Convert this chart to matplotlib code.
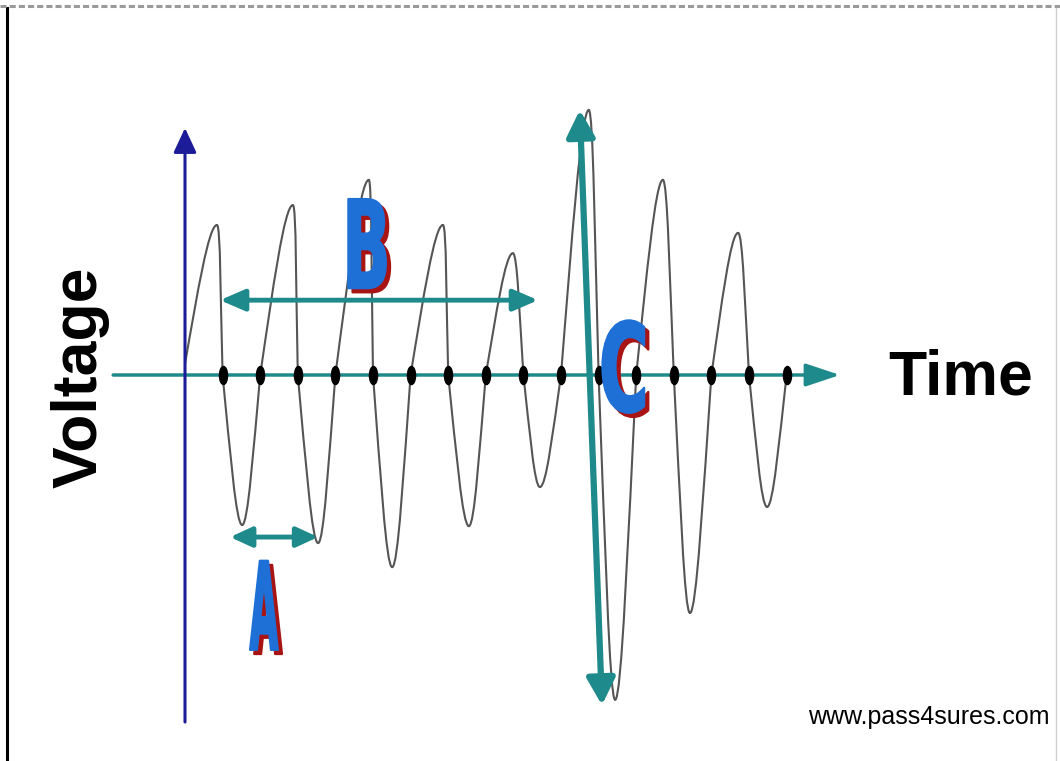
import matplotlib
matplotlib.use("Agg")
import matplotlib.pyplot as plt
import matplotlib.colors as mcolors
from matplotlib import patheffects
from matplotlib.path import Path
from matplotlib.patches import PathPatch, FancyArrowPatch, ArrowStyle
from matplotlib.markers import MarkerStyle
from matplotlib.transforms import Affine2D
from matplotlib.lines import Line2D

# waveform: time in tick units, voltage in the same units
start_tv = (0.0, 0.3)
peak_t = [0.85, 2.87, 4.89, 6.86, 8.72, 10.74, 12.71, 14.71]
peak_v = [3.99, 4.52, 5.19, 3.99, 3.24, 7.05, 5.19, 3.78]
trough_t = [1.52, 3.54, 5.51, 7.55, 9.44, 11.44, 13.43, 15.48]
trough_v = [-3.99, -4.47, -5.11, -4.02, -2.98, -8.64, -6.33, -3.51]
cross_t = list(range(1, 17))
tick_t = list(range(1, 17))

# annotation arrows (start, end)
arrow_a = ((1.20, -4.31), (3.54, -4.31))
arrow_b = ((0.93, 1.99), (9.39, 1.99))
arrow_c = ((10.50, 7.05), (11.09, -8.78))
volt_axis = ((0.0, -9.23), (0.0, 6.57))
time_axis = ((-1.91, 0.0), (17.42, 0.0))

TEAL = "#1f8a8b"
NAVY = "#1c1c98"
BLUE = "#1e6fd6"
RED = "#a81414"
GREY = "#555555"


class Squeeze(patheffects.AbstractPathEffect):
    """draw the glyph narrower, around its own centre"""

    def __init__(self, width, offset=(0, 0), color=None, stroke=1.6):
        super().__init__(offset)
        self.width = width
        self.color = color
        self.stroke = stroke

    def draw_path(self, renderer, gc, tpath, affine, rgbFace=None):
        bb = tpath.get_extents(affine)
        cx = 0.5 * (bb.x0 + bb.x1)
        sx = renderer.points_to_pixels(self.width) / max(bb.width, 1)
        tr = (affine + Affine2D().translate(-cx, 0).scale(sx, 1).translate(cx, 0)
              + self._offset_transform(renderer))
        gc0 = renderer.new_gc()
        gc0.copy_properties(gc)
        face = rgbFace
        if self.color is not None:
            face = mcolors.to_rgba(self.color)
            gc0.set_foreground(self.color)
        gc0.set_linewidth(self.stroke)
        gc0.set_joinstyle("round")
        renderer.draw_path(gc0, tpath, tr, face)
        gc0.restore()


PX = 37.6  # pixels per unit
x0_px, y0_px = 185, 375

fig = plt.figure(figsize=(10.6, 7.61), dpi=100)
ax = fig.add_axes([0, 0, 1, 1])
ax.set_xlim(-x0_px / PX, (1060 - x0_px) / PX)
ax.set_ylim((y0_px - 761) / PX, y0_px / PX)
ax.axis("off")

# build the wave as bezier pieces between crossings and extremes
pts = [start_tv]
kinds = ["c"]
for k in range(8):
    pts += [(peak_t[k], peak_v[k]), (cross_t[2 * k], 0.0),
            (trough_t[k], trough_v[k]), (cross_t[2 * k + 1], 0.0)]
    kinds += ["e", "c", "e", "c"]

verts = [pts[0]]
codes = [Path.MOVETO]
for i in range(1, len(pts)):
    a, b = pts[i - 1], pts[i]
    if kinds[i] == "e":
        c, e = a, b
    else:
        c, e = b, a
    dt = e[0] - c[0]
    dv = e[1] - c[1]
    near_c = (c[0] + 0.38 * dt, c[1] + 0.5 * dv)
    round_top = min(0.18 * abs(dt) + 0.07, 0.7 * abs(dt))
    near_e = (e[0] - round_top * (1 if dt > 0 else -1), e[1])
    if kinds[i] == "e":
        verts += [near_c, near_e, b]
    else:
        verts += [near_e, near_c, b]
    codes += [Path.CURVE4] * 3

ax.add_patch(PathPatch(Path(verts, codes), fill=False, edgecolor=GREY,
                       lw=1.5, zorder=2))


def arrow(p, q, style, color, lw, hl, hw, z=3):
    ax.add_patch(FancyArrowPatch(p, q, arrowstyle=ArrowStyle(style, head_length=hl, head_width=hw),
                                 mutation_scale=1, color=color, lw=lw,
                                 shrinkA=0, shrinkB=0, zorder=z))


arrow(*time_axis, "-|>", TEAL, 2.5, 21, 7)
arrow(*volt_axis, "-|>", NAVY, 2.2, 15, 7)

tick_marker = MarkerStyle("o", transform=Affine2D().scale(0.45, 1.0))
ax.plot(tick_t, [0] * len(tick_t), ls="none", marker=tick_marker,
        ms=13, color="black", zorder=4)

arrow(*arrow_b, "<|-|>", TEAL, 3.5, 15, 6.5, z=5)
arrow(*arrow_a, "<|-|>", TEAL, 3.5, 13, 6, z=5)
arrow(*arrow_c, "<|-|>", TEAL, 4.5, 16, 8.5, z=5)

letters = [("B", 4.81, 2.31, 27), ("A", 2.10, -7.31, 20), ("C", 11.68, -0.96, 30)]
for s, t, v, w in letters:
    ax.text(t, v, s, ha="center", va="baseline", fontsize=88,
            fontweight="bold", family="DejaVu Sans", zorder=6,
            path_effects=[Squeeze(w, offset=(3, -3), color=RED),
                          Squeeze(w, color=BLUE)])

ax.text(18.70, -0.53, "Time", ha="left", va="baseline", fontsize=45,
        fontweight="bold", family="Liberation Sans", color="black")
ax.text(-2.79, -0.05, "Voltage", ha="center", va="center", rotation=90,
        fontsize=45, fontweight="bold", family="Liberation Sans", color="black")
ax.text(16.57, -9.28, "www.pass4sures.com", ha="left", va="baseline",
        fontsize=18, family="Liberation Sans", color="black")

# picture frame
fig.add_artist(Line2D([6.5 / 1060] * 2, [0, 1 - 8 / 761], transform=fig.transFigure,
                      color="black", lw=2.2))
fig.add_artist(Line2D([0, 1], [1 - 6 / 761] * 2, transform=fig.transFigure,
                      color="#9a9a9a", lw=2.2, ls=(0, (2, 1))))
fig.add_artist(Line2D([1056 / 1060] * 2, [0, 1 - 8 / 761], transform=fig.transFigure,
                      color="#cfcfcf", lw=1))

fig.savefig("out.png", dpi=100)
